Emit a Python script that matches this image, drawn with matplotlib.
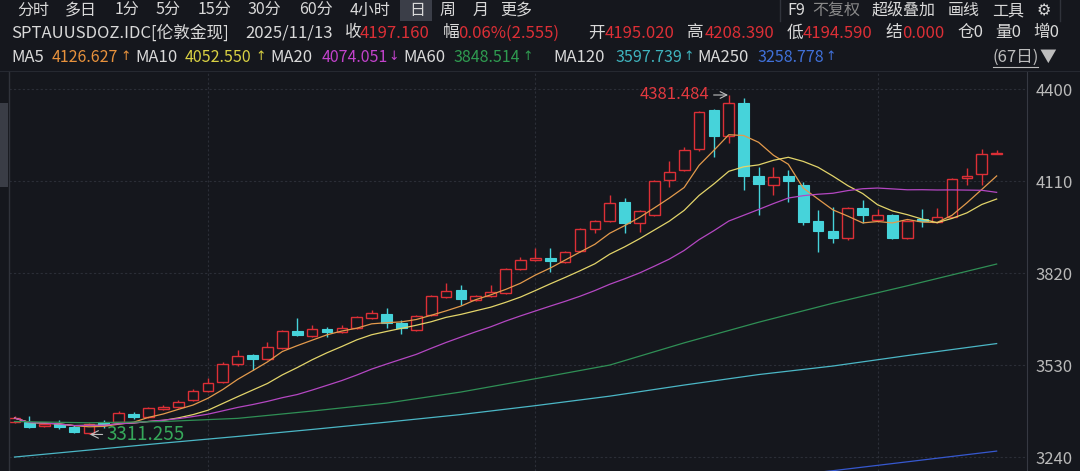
import matplotlib
matplotlib.use("Agg")
import matplotlib.pyplot as plt
from matplotlib.patches import Rectangle
from matplotlib.lines import Line2D
import pandas as pd

plt.rcParams['font.family'] = ['Noto Sans CJK SC', 'DejaVu Sans']

# --- daily candles, last 67 trading days up to 2025/11/13 ---
opens = [3350, 3350, 3338, 3344, 3335, 3316, 3350, 3350, 3376, 3366,
         3391, 3398, 3420, 3448, 3476, 3533, 3562, 3549, 3584, 3637,
         3621, 3644, 3634, 3647, 3678, 3691, 3662, 3640, 3688, 3744,
         3766, 3735, 3748, 3757, 3833, 3861, 3867, 3855, 3889, 3959,
         3984, 4044, 3978, 4003, 4113, 4145, 4211, 4334, 4252, 4356,
         4126, 4097, 4126, 4097, 3984, 3952, 3930, 4025, 3987, 4003,
         3930, 3990, 3981, 3997, 4119, 4132, 4195.02]
highs = [3369, 3369, 3347, 3357, 3341, 3347, 3357, 3385, 3382, 3398,
         3404, 3420, 3454, 3489, 3540, 3577, 3565, 3603, 3640, 3678,
         3656, 3650, 3656, 3684, 3703, 3710, 3672, 3688, 3751, 3788,
         3782, 3751, 3782, 3836, 3870, 3899, 3899, 3889, 3962, 3987,
         4066, 4056, 4019, 4113, 4173, 4217, 4331, 4337, 4381.484, 4372,
         4154, 4154, 4145, 4107, 4019, 4028, 4028, 4050, 4022, 4006,
         3987, 4022, 4025, 4119, 4151, 4211, 4208.39]
lows = [3347, 3331, 3335, 3328, 3316, 3311.255, 3331, 3347, 3360, 3363,
        3388, 3395, 3417, 3445, 3473, 3527, 3514, 3546, 3581, 3621,
        3618, 3618, 3631, 3644, 3675, 3647, 3628, 3637, 3684, 3741,
        3719, 3732, 3744, 3754, 3829, 3858, 3823, 3852, 3886, 3946,
        3981, 3946, 3949, 4000, 4091, 4142, 4205, 4186, 4230, 4082,
        4003, 4066, 4044, 3971, 3886, 3915, 3924, 3978, 3981, 3927,
        3927, 3965, 3978, 3994, 4097, 4097, 4194.59]
closes = [3363, 3335, 3344, 3335, 3319, 3344, 3341, 3379, 3366, 3395,
          3398, 3413, 3448, 3473, 3533, 3558, 3549, 3587, 3637, 3625,
          3644, 3634, 3647, 3681, 3694, 3662, 3647, 3684, 3748, 3763,
          3738, 3748, 3760, 3833, 3861, 3867, 3858, 3886, 3959, 3984,
          4041, 3978, 4015, 4110, 4138, 4208, 4327, 4252, 4356, 4126,
          4101, 4123, 4110, 3981, 3952, 3930, 4025, 4003, 4003, 3930,
          3984, 3984, 3997, 4116, 4126, 4195, 4197.16]

ma60_days = [0, 5, 10, 15, 20, 25, 30, 35, 40, 45, 50, 55, 60, 66]
ma60_vals = [3352, 3348, 3352, 3362, 3385, 3410, 3445, 3487, 3530, 3600,
             3665, 3725, 3780, 3848.514]
ma120_days = [0, 5, 10, 15, 20, 25, 30, 35, 40, 45, 50, 55, 60, 66]
ma120_vals = [3240, 3262, 3284, 3305, 3327, 3350, 3374, 3402, 3432, 3467,
              3500, 3527, 3560, 3597.739]
ma250_days = [45, 50, 55, 60, 66]
ma250_vals = [3150, 3172, 3197, 3225, 3258.778]

month_starts = [13, 35, 58]
price_ticks = [3240, 3530, 3820, 4110, 4400]

BG = "#15171d"
UP = "#dc2f36"
DOWN = "#46d3da"
TXT = "#d9d9d9"

W, H = 1080, 471
fig = plt.figure(figsize=(W / 100, H / 100), dpi=100, facecolor=BG)

def px(x, y):
    return x / W, 1 - y / H

ax = fig.add_axes([9 / W, 0, (1027 - 9) / W, 1 - 72 / H], facecolor=BG)
ax.set_xlim(-0.37, 68.04)
ax.set_ylim(3196, 4454)

# grid
for t in price_ticks:
    ax.axhline(t, color="#2b2e37", lw=0.8, ls=(0, (2, 2)), zorder=0)
for m in month_starts:
    ax.axvline(m, color="#2b2e37", lw=0.8, ls=(0, (2, 2)), zorder=0)

# candles
bw = 0.72
for i, (o, h, l, c) in enumerate(zip(opens, highs, lows, closes)):
    if c >= o:
        ax.vlines(i, c, h, color=UP, lw=1, zorder=2)
        ax.vlines(i, l, o, color=UP, lw=1, zorder=2)
        ax.add_patch(Rectangle((i - bw / 2, o), bw, max(c - o, 1.5),
                               facecolor=BG, edgecolor=UP, lw=1, zorder=3))
    else:
        ax.vlines(i, l, h, color=DOWN, lw=1, zorder=2)
        ax.add_patch(Rectangle((i - bw / 2, c), bw, o - c,
                               facecolor=DOWN, edgecolor=DOWN, lw=0.8, zorder=3))

# moving averages
s = pd.Series(closes)
days = range(len(closes))
ax.plot(days, s.rolling(5, min_periods=1).mean(), color="#e39a4c", lw=0.9, zorder=4)
ax.plot(days, s.rolling(10, min_periods=1).mean(), color="#e2d46a", lw=0.9, zorder=4)
ax.plot(days, s.rolling(20, min_periods=1).mean(), color="#b447c2", lw=0.9, zorder=4)
ax.plot(ma60_days, ma60_vals, color="#2f8f55", lw=0.9, zorder=4)
ax.plot(ma120_days, ma120_vals, color="#4bb7c6", lw=0.9, zorder=4)
ax.plot(ma250_days, ma250_vals, color="#3658cf", lw=0.9, zorder=4)

# high / low markers
hi = highs.index(max(highs))
lo = lows.index(min(lows))
ax.annotate(f"{highs[hi]:.3f}", xy=(hi - 0.05, highs[hi]), xytext=(hi - 1.3, highs[hi]),
            color="#e2393f", fontsize=12, ha="right", va="center",
            arrowprops=dict(arrowstyle="->", color="#bfbfbf", lw=0.8,
                            shrinkA=1, shrinkB=0))
ax.annotate(f"{lows[lo]:.3f}", xy=(lo + 0.05, lows[lo]), xytext=(lo + 1.2, lows[lo]),
            color="#36a85a", fontsize=13.5, ha="left", va="center",
            arrowprops=dict(arrowstyle="->", color="#bfbfbf", lw=0.8,
                            shrinkA=1, shrinkB=0))

# axis styling
for side in ["top", "left", "bottom"]:
    ax.spines[side].set_visible(False)
ax.spines["right"].set_color("#363942")
ax.set_xticks([])
ax.yaxis.tick_right()
ax.set_yticks(price_ticks)
ax.set_yticklabels([str(t) for t in price_ticks])
ax.tick_params(axis="y", length=0, pad=6, labelsize=12, labelcolor="#b9b9b9")

# --- header ---
# left sidebar stub
fig.add_artist(Line2D([8.5 / W, 8.5 / W], [0, 1 - 72 / H], color="#30333b", lw=1))
fig.add_artist(Rectangle(px(0, 187), 8 / W, 84 / H, facecolor="#3a3d46", edgecolor="none"))
fig.add_artist(Line2D([0, 1], [1 - 71 / H] * 2, color="#262931", lw=0.8))

FS = 11.5
periods = [(17, "分时"), (65, "多日"), (115, "1分"), (156, "5分"), (198, "15分"),
           (248, "30分"), (299, "60分"), (350, "4小时"), (409, "日"), (440, "周"),
           (473, "月"), (500, "更多")]
fig.add_artist(Rectangle(px(400, 21), 32 / W, 21 / H, facecolor="#3b3e48", edgecolor="none"))
for x, t in periods:
    fig.text(*px(x, 10.5), t, color=TXT, fontsize=FS, va="center", ha="left")
for x in [780, 1060]:
    fig.add_artist(Line2D([x / W] * 2, [1 - 21 / H, 1], color="#30333b", lw=1))
tools = [(787, "F9", TXT), (812, "不复权", "#8a8a8a"), (872, "超级叠加", TXT),
         (948, "画线", TXT), (992, "工具", TXT), (1037, "⚙", TXT)]
for x, t, c in tools:
    fig.text(*px(x, 10.5), t, color=c, fontsize=FS, va="center", ha="left")

quote = [(11, "SPTAUUSDOZ.IDC[伦敦金现]", TXT), (245, "2025/11/13", TXT),
         (345, "收", TXT), (360, "4197.160", UP), (443, "幅", TXT),
         (458, "0.06%(2.555)", UP), (588, "开", TXT), (605, "4195.020", UP),
         (687, "高", TXT), (705, "4208.390", UP), (787, "低", TXT),
         (803, "4194.590", UP), (885, "结", TXT), (902, "0.000", UP),
         (957, "仓0", TXT), (995, "量0", TXT), (1033, "增0", TXT)]
for x, t, c in quote:
    fig.text(*px(x, 33), t, color=c, fontsize=12, va="center", ha="left")

# MA legend row: label, value, trend arrow (arrow drawn narrow, on its own)
ma_row = [(11, "MA5", 52, "4126.627", 125.5, "↑", "#e8923c"),
          (135, "MA10", 185, "4052.550", 260.5, "↑", "#d9d143"),
          (270, "MA20", 322, "4074.051", 393.5, "↓", "#c242cb"),
          (403, "MA60", 453, "3848.514", 528, "↑", "#2f9b50"),
          (553, "MA120", 615, "3597.739", 688.5, "↑", "#3fb4be"),
          (697, "MA250", 757, "3258.778", 830.5, "↑", "#4070d8")]
for xl, lab, xv, val, xa, arr, c in ma_row:
    fig.text(*px(xl, 57), lab, color=TXT, fontsize=12, va="center", ha="left")
    fig.text(*px(xv, 57), val, color=c, fontsize=11.5, va="center", ha="left")
    fig.text(*px(xa, 57), arr, color=c, fontsize=9, va="center", ha="center",
             family="DejaVu Sans")
fig.text(*px(993, 57), "(67日)", color="#bdbdbd", fontsize=12, va="center", ha="left")
fig.text(*px(1040, 57), "▼", color="#bdbdbd", fontsize=12, va="center", ha="left")
fig.add_artist(Line2D([993 / W, 1038 / W], [1 - 67 / H] * 2, color="#bdbdbd", lw=0.8))

fig.savefig("out.png", dpi=100, facecolor=BG)
